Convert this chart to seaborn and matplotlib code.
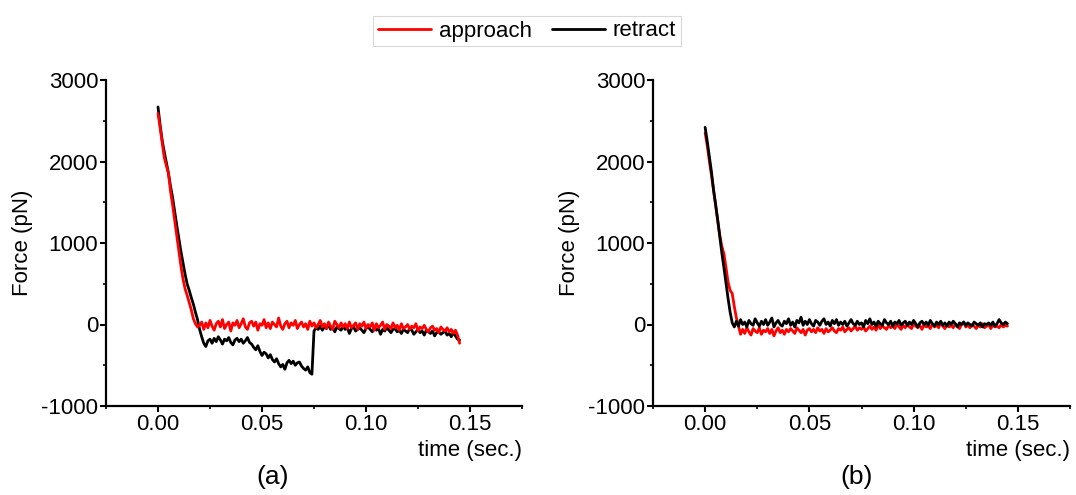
import numpy as np
import pandas as pd
import seaborn as sns
import matplotlib.pyplot as plt
from matplotlib.ticker import MultipleLocator, FormatStrFormatter

# sampling step of the force traces (sec.)
dt = 0.001

# panel (a) force traces (pN), one value per sample
approach_a = [2590, 2420, 2230, 2050, 1950, 1860, 1640, 1470, 1280, 1080,
              890, 720, 560, 440, 360, 270, 180, 70, 10, -30,
              -10, 30, -60, 20, -40, 50, -20, -70, 10, 40,
              -30, 60, -50, 0, 30, -80, 20, -10, 50, -40,
              10, 70, -30, -60, 20, 40, -20, 30, -70, 10,
              -10, 60, -40, 20, -50, 30, 0, -30, 80, -20,
              -60, 10, 40, -40, 20, -10, 50, -50, 0, 30,
              -30, 10, -60, 40, -20, 20, -40, 0, 50, -30,
              10, -50, 30, -20, -60, 40, 0, -40, 20, -30,
              10, -50, 30, -40, -10, 20, -60, 10, -20, 30,
              -50, 0, -30, 20, -70, 10, -40, -10, 30, -60,
              0, -20, -50, 20, -40, -10, -70, 10, -50, -30,
              0, -60, -20, -40, 10, -80, -30, -50, -10, -60,
              -90, -40, -20, -70, -50, -100, -30, -60, -80, -40,
              -90, -60, -110, -70, -130, -230]
retract_a = [2670, 2450, 2260, 2120, 1990, 1860, 1700, 1560, 1390, 1220,
             1060, 900, 760, 620, 500, 420, 330, 250, 150, 60,
             -60, -150, -230, -270, -200,
             -180, -230, -170, -210, -150, -190, -240, -180, -200, -160,
             -220, -250, -190, -170, -210, -180, -230, -200, -160, -220, -240,
             -280, -310, -260, -330, -380, -340, -360, -410, -370, -430,
             -460, -420, -480, -520, -490, -550, -470, -440, -480, -450,
             -500, -470, -460, -510, -540, -560, -520, -590, -610,
             -80, -40, -60, -20, -70, -30, -50, 0, -60, -40,
             -90, -30, -50, -70, -20, -60, -40, -110, -50, -30,
             -80, -60, -40, -70, -100, -50, -30, -60, -90, -40,
             -70, -50, -120, -60, -80, -40, -70, -100, -60, -50,
             -90, -70, -110, -60, -80, -100, -50, -70, -120, -90,
             -60, -100, -80, -130, -70, -90, -110, -80, -140, -100,
             -90, -120, -100, -80, -130, -110, -150, -100, -140, -180, -190]

# panel (b) force traces (pN)
approach_b = [2350, 2200, 2010, 1840, 1650, 1460, 1280, 1100, 960, 870,
              700, 520, 420, 380, 220, 80, -20, -120,
              -60, -110, -40, -90, -130, -50, -80, -100, -40, -120,
              -70, -90, -50, -110, -60, -140, -80, -40, -100, -70,
              -120, -60, -90, -50, -80, -110, -40, -70, -100, -60,
              -130, -70, -50, -90, -60, -100, -40, -80, -60, -110,
              -50, -90, -70, -40, -80, -100, -50, -70, -30, -90,
              -60, -40, -80, -50, -20, -70, -40, -60, -30, -80,
              -50, -20, -60, -30, -70, 0, -50, -20, -40, -60,
              -10, -40, -20, -50, 10, -30, -60, -10, -40, 0,
              -30, -50, 10, -20, -40, -10, -60, 0, -30, -20,
              -50, 10, -30, -10, -40, 20, -20, -50, 0, -30,
              -10, -40, 10, -20, -50, 0, 30, -30, -10, -40,
              0, -20, -50, -10, -30, 10, -40, -20, 0, -50,
              -10, -30, -20, -40, 0, -30, -10, -20]
retract_b = [2420, 2250, 2060, 1880, 1660, 1480, 1290, 1080, 880, 700,
             510, 320, 150, 20, -30,
             40, -20, 60, 0, 30, -30, 50, 10, -10, 70,
             20, -20, 40, 0, 60, -10, 30, 80, -30, 20,
             50, 0, -20, 40, 10, 70, -10, 30, -30, 50,
             20, 90, -10, 40, 0, 60, 10, -20, 50, 30,
             -10, 40, 70, 0, 30, -20, 50, 10, 60, -10,
             30, 0, 40, -20, 20, 60, 10, -10, 40, 0,
             20, -30, 50, 10, 70, 0, 30, -20, 40, 10,
             -10, 60, 20, 0, 40, -20, 30, 10, 50, -10,
             20, 40, -10, 30, 0, 50, 10, -30, 20, 40,
             0, 30, -10, 50, 10, -20, 30, 0, 40, -10,
             20, -20, 30, 0, 40, 10, -30, 20, 0, 30,
             -10, 20, 0, -20, 30, 10, -10, 20, -30, 10,
             0, 20, -10, 30, -20, 10, 60, 20, 0, 30, 10]

panel_labels = ['(a)', '(b)']
series_names = ['approach', 'retract']
colors = {'approach': '#ff0000', 'retract': '#000000'}


def trace(force):
    return pd.DataFrame({'time': np.arange(len(force)) * dt, 'force': force})


sns.set_style('ticks')
plt.rcParams['font.family'] = ['Liberation Sans', 'DejaVu Sans']
plt.rcParams['axes.unicode_minus'] = False
for key in ['text.color', 'axes.labelcolor', 'xtick.color', 'ytick.color',
            'axes.edgecolor']:
    plt.rcParams[key] = 'black'

fig = plt.figure(figsize=(10.76, 4.95), dpi=100)
ax_a = fig.add_axes([106 / 1076, 1 - 406 / 495, 416 / 1076, 326 / 495])
ax_b = fig.add_axes([653 / 1076, 1 - 406 / 495, 417 / 1076, 326 / 495])

# (a): approach drawn over retract, (b): retract drawn over approach
sns.lineplot(data=trace(retract_a), x='time', y='force', ax=ax_a,
             color=colors['retract'], lw=2.0, label='retract')
sns.lineplot(data=trace(approach_a), x='time', y='force', ax=ax_a,
             color=colors['approach'], lw=2.0, label='approach')
sns.lineplot(data=trace(approach_b), x='time', y='force', ax=ax_b,
             color=colors['approach'], lw=2.0, label='approach')
sns.lineplot(data=trace(retract_b), x='time', y='force', ax=ax_b,
             color=colors['retract'], lw=2.0, label='retract')

handles, labels = ax_b.get_legend_handles_labels()
for ax, name in zip([ax_a, ax_b], panel_labels):
    ax.get_legend().remove()
    ax.set_xlim(-0.025, 0.175)
    ax.set_ylim(-1000, 3000)
    ax.xaxis.set_major_locator(MultipleLocator(0.05))
    ax.xaxis.set_minor_locator(MultipleLocator(0.025))
    ax.xaxis.set_major_formatter(FormatStrFormatter('%.2f'))
    ax.yaxis.set_major_locator(MultipleLocator(1000))
    ax.yaxis.set_minor_locator(MultipleLocator(500))
    ax.tick_params(which='major', direction='out', length=4, width=1.5,
                   labelsize=16, pad=1.5)
    ax.tick_params(which='minor', direction='out', length=2.5, width=1.2)
    ax.set_xlabel('time (sec.)', fontsize=16, loc='right', labelpad=4)
    ax.set_ylabel('Force (pN)', fontsize=16, labelpad=6)
    for side in ['left', 'bottom']:
        ax.spines[side].set_linewidth(1.6)
    sns.despine(ax=ax)

fig.text(273 / 1076, 1 - 477 / 495, panel_labels[0], fontsize=19,
         ha='center', va='center')
fig.text(857 / 1076, 1 - 477 / 495, panel_labels[1], fontsize=19,
         ha='center', va='center')

order = [labels.index(n) for n in series_names]
leg = fig.legend([handles[i] for i in order], [labels[i] for i in order],
                 loc='center', bbox_to_anchor=(527 / 1076, 1 - 31 / 495),
                 ncol=2, fontsize=16, frameon=True, fancybox=False,
                 edgecolor='#cfcfcf', handlelength=2.4, handletextpad=0.35,
                 columnspacing=0.9, borderpad=0.2)
leg.get_frame().set_linewidth(0.8)

fig.savefig('out.png', dpi=100)
